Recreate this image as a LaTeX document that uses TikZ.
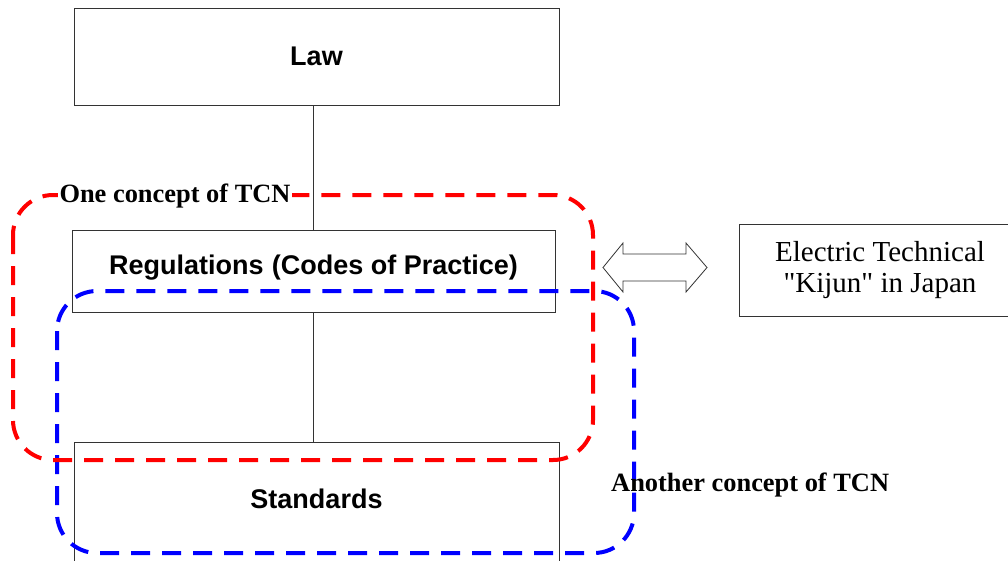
\documentclass[tikz,border=0pt]{standalone}
\usepackage{fontspec}
\setmainfont{Liberation Serif}
\newfontfamily\gothic{Liberation Sans}
\begin{document}
\begin{tikzpicture}[x=1pt,y=-1pt,
  box/.style={draw=black!80, line width=0.8pt, fill=white, inner sep=0pt},
  boxtext/.style={font=\gothic\bfseries\fontsize{27}{31}\selectfont},
  link/.style={draw=black!80, line width=0.8pt},
  tcn/.style={line width=4pt, dash pattern=on 19pt off 12pt, rounded corners=40pt},
  tcnlabel/.style={font=\bfseries\fontsize{26.4}{30}\selectfont, inner sep=2pt}]
\useasboundingbox (0,0) rectangle (1008,560);

% hierarchy boxes
\node[box, boxtext, minimum width=485, minimum height=97] (law) at (316.5,56.5) {Law};
\node[box, boxtext, minimum width=483, minimum height=82] (reg) at (313.5,271) {};
\node[boxtext] (regtext) at (313.5,268) {Regulations\hspace{0.3em}(Codes of Practice)};
\node[box, boxtext, minimum width=485, minimum height=120] (std) at (316.5,502) {};
\node[boxtext] (stdtext) at (316.5,499) {Standards};
\node[box, minimum width=282, minimum height=92, align=center,
      font=\fontsize{29}{31}\selectfont] (kijun) at (880,270)
      {Electric Technical\\\textquotedbl Kijun\textquotedbl{} in Japan};

% vertical links
\draw[link] (reg.north |- law.south) -- (reg.north);
\draw[link] (reg.south) -- (reg.south |- std.north);

% two-headed comparison arrow
\coordinate (al) at (603,267.5);
\coordinate (ar) at (707,267.5);
\draw[black!80, line width=0.8pt, fill=white]
  (al) -- ++(20,-24.5) -- ++(0,11) -- (686,254) -- ++(0,-11) -- (ar)
  -- (686,292) -- ++(0,-11) -- (623,281) -- ++(0,11) -- cycle;

% concept regions
\draw[tcn, blue] (57,291) rectangle (634,553);
\draw[tcn, red] (13,195) rectangle (593,460);

\node[tcnlabel, fill=white] (one) at (175,196) {One concept of TCN};
\node[tcnlabel, anchor=west] (another) at (609,485) {Another concept of TCN};
\end{tikzpicture}
\end{document}
